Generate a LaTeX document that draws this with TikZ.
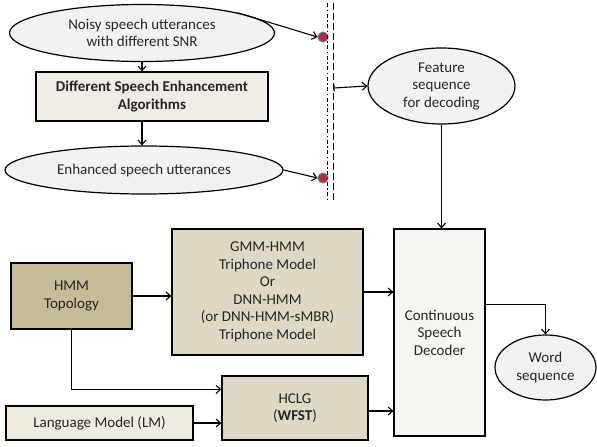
\documentclass[tikz,border=0pt]{standalone}
\usepackage{fontspec}
\setmainfont{Carlito}
\usetikzlibrary{shapes.geometric,arrows.meta}
\definecolor{ellfill}{RGB}{242,242,245}
\definecolor{enhfill}{RGB}{240,237,230}
\definecolor{tanfill}{RGB}{221,217,196}
\definecolor{hmmfill}{RGB}{196,189,151}
\definecolor{lmfill}{RGB}{238,236,225}
\definecolor{decfill}{RGB}{247,247,242}
\definecolor{dotred}{RGB}{192,40,45}
\definecolor{dotblue}{RGB}{79,129,189}
\begin{document}
\begin{tikzpicture}[x=1pt,y=-1pt,
  every node/.style={font=\fontsize{15}{17.5}\selectfont, align=center, inner sep=0pt, text=black!85},
  ell/.style={ellipse, draw, line width=1.2pt, fill=ellfill},
  boxa/.style={rectangle, draw, line width=1.2pt},
  conn/.style={line width=1.1pt, -{Straight Barb[length=4.5pt,width=8pt]}},
  reddot/.style={circle, fill=dotred, draw=dotblue, line width=1pt, minimum size=10pt}
]
\useasboundingbox (0,0) rectangle (597,447);
% nodes
\node[ell, minimum width=265pt, minimum height=57pt] (n1) at (142,33) {Noisy speech utterances\\with different SNR};
\node[boxa, fill=enhfill, minimum width=232pt, minimum height=49pt, font=\fontsize{15}{17.5}\selectfont\bfseries] (enh) at (152,96.5) {Different Speech Enhancement\\Algorithms};
\node[ell, minimum width=278pt, minimum height=48pt] (n3) at (144,170) {Enhanced speech utterances};
\node[reddot] (d1) at (323,37) {};
\node[reddot] (d2) at (323,178) {};
\node[ell, minimum width=147pt, minimum height=76pt] (feat) at (441.5,86) {Feature\\sequence\\for decoding};
\node[boxa, fill=decfill, minimum width=91pt, minimum height=207pt] (dec) at (439.5,332.5) {Continuous\\Speech\\Decoder};
\node[boxa, fill=tanfill, minimum width=191pt, minimum height=126pt] (gmm) at (267.5,292) {GMM-HMM\\Triphone Model\\Or\\DNN-HMM\\(or DNN-HMM-sMBR)\\Triphone Model};
\node[boxa, fill=hmmfill, minimum width=121pt, minimum height=66pt] (hmm) at (71.5,296) {HMM\\Topology};
\node[boxa, fill=tanfill, minimum width=146pt, minimum height=64pt] (hclg) at (295,408) {HCLG\\(\textbf{WFST})};
\node[boxa, fill=lmfill, minimum width=187pt, minimum height=34pt] (lm) at (99.5,423) {Language Model (LM)};
\node[ell, minimum width=101pt, minimum height=65pt] (word) at (545.5,367.5) {Word\\sequence};
% vertical separator lines
\coordinate (lt) at (327.5,3);
\coordinate (lb) at (327.5,200);
\coordinate (rt) at (333.5,3);
\coordinate (rb) at (333.5,200);
\draw[line width=1.2pt, dash pattern=on 4pt off 2.5pt on 1.5pt off 2.5pt] (lt) -- (lb);
\draw[line width=1.3pt, dash pattern=on 7pt off 3pt] (rt) -- (rb);
% connectors
\draw[conn] (n1.south) -- (n1.south |- enh.north);
\draw[conn] (n1.south |- enh.south) -- (n3.north -| n1.south);
\draw[conn] (n1.12) -- (d1.west);
\draw[conn] (n3.east) -- (d2.west);
\coordinate (fs) at (333.5,88);
\draw[line width=1.1pt, {Bar[width=7pt]}-{Straight Barb[length=4.5pt,width=8pt]}] (fs) -- (feat.west);
\draw[conn] (feat.south) -- (dec.north -| feat.south);
\draw[conn] (hmm.east) -- (hmm.east -| gmm.west);
\draw[conn] (gmm.east) -- (gmm.east -| dec.west);
\draw[conn] (hmm.south) |- ([yshift=-14pt]hclg.north west);
\draw[conn] (lm.east) -- (lm.east -| hclg.west);
\draw[conn] ([yshift=-3pt]hclg.east) -- ([yshift=-3pt]hclg.east -| dec.west);
\draw[conn] ([yshift=-76pt]dec.north east) -| (word.north);
\end{tikzpicture}
\end{document}
